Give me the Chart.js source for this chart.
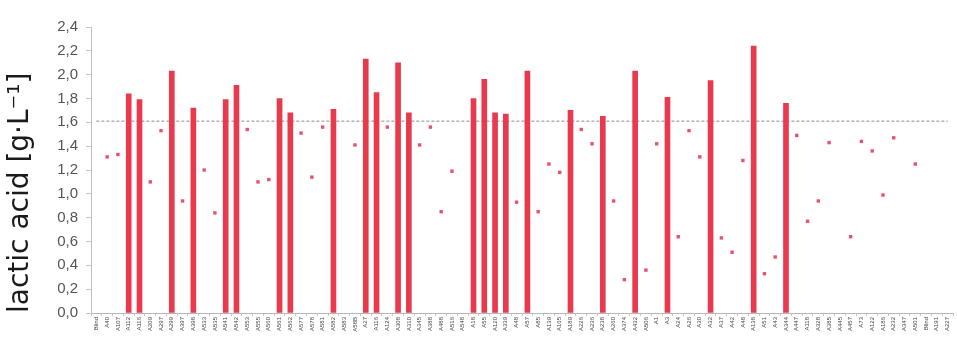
<!DOCTYPE html>
<html>
<head>
<meta charset="utf-8">
<script src="https://cdn.jsdelivr.net/npm/chart.js@4/dist/chart.umd.min.js"></script>
<style>
    body { margin: 0; background: #fff; }
    #wrap { width: 957px; height: 339px; position: relative; }
</style>
</head>
<body>
<div id="wrap"><canvas id="lacticChart"></canvas></div>
<script>
// Etiquetas de las cepas (eje X)
const labels = [
    'Blind', 'A40', 'A107', 'A112', 'A116', 'A209', 'A297', 'A299', 'A397', 'A398',
    'A533', 'A535', 'A541', 'A542', 'A553', 'A555', 'A560', 'A561', 'A562', 'A577',
    'A578', 'A581', 'A582', 'A583', 'A58B', 'A27', 'A116', 'A124', 'A308', 'A310',
    'A345', 'A388', 'A488', 'A516', 'A548', 'A18', 'A55', 'A120', 'A339', 'A48',
    'A57', 'A85', 'A139', 'A165', 'A189', 'A226', 'A236', 'A238', 'A260', 'A374',
    'A432', 'A506', 'A1', 'A3', 'A24', 'A26', 'A30', 'A32', 'A37', 'A42',
    'A48', 'A138', 'A51', 'A43', 'A344', 'A447', 'A118', 'A328', 'A385', 'A445',
    'A457', 'A73', 'A122', 'A186', 'A232', 'A347', 'A501', 'Blind', 'A191', 'A227'
];

// Cepas por encima del umbral (barras)
const highValues = [
    null, null, null, 1.84, 1.79, null, null, 2.03, null, 1.72,
    null, null, 1.79, 1.91, null, null, null, 1.80, 1.68, null,
    null, null, 1.71, null, null, 2.13, 1.85, null, 2.10, 1.68,
    null, null, null, null, null, 1.80, 1.96, 1.68, 1.67, null,
    2.03, null, null, null, 1.70, null, null, 1.65, null, null,
    2.03, null, null, 1.81, null, null, null, 1.95, null, null,
    null, 2.24, null, null, 1.76, null, null, null, null, null,
    null, null, null, null, null, null, null, null, null, null
];

// Cepas por debajo del umbral (marcas)
const lowValues = [
    null, 1.31, 1.33, null, null, 1.10, 1.53, null, 0.94, null,
    1.20, 0.84, null, null, 1.54, 1.10, 1.12, null, null, 1.51,
    1.14, 1.56, null, null, 1.41, null, null, 1.56, null, null,
    1.41, 1.56, 0.85, 1.19, null, null, null, null, null, 0.93,
    null, 0.85, 1.25, 1.18, null, 1.54, 1.42, null, 0.94, 0.28,
    null, 0.36, 1.42, null, 0.64, 1.53, 1.31, null, 0.63, 0.51,
    1.28, null, 0.33, 0.47, null, 1.49, 0.77, 0.94, 1.43, null,
    0.64, 1.44, 1.36, 0.99, 1.47, null, 1.25, null, null, null
];

// Umbral (línea discontinua)
const THRESHOLD = 1.61;

const yTicks = [0, 0.2, 0.4, 0.6, 0.8, 1.0, 1.2, 1.4, 1.6, 1.8, 2.0, 2.2, 2.4];

const RED = 'rgb(232, 58, 76)';

const ctx = document.getElementById('lacticChart').getContext('2d');
const lacticChart = new Chart(ctx, {
    type: 'bar',
    data: {
        labels: labels,
        datasets: [
            {
                type: 'line',
                data: labels.map(() => THRESHOLD),
                borderColor: '#8a8a8a',
                borderWidth: 1,
                borderDash: [3, 2],
                pointRadius: 0,
                order: 3
            },
            {
                data: highValues,
                backgroundColor: RED,
                barThickness: 5,
                order: 2
            },
            {
                type: 'line',
                data: lowValues,
                showLine: false,
                pointStyle: 'rect',
                pointRadius: 2.4,
                pointBackgroundColor: 'rgba(228, 64, 88, 0.9)',
                pointBorderWidth: 0,
                order: 1
            }
        ]
    },
    options: {
        responsive: true,
        maintainAspectRatio: false,
        animation: false,
        layout: { padding: { top: 27, right: 0, left: 0, bottom: 0 } },
        plugins: {
            legend: { display: false },
            tooltip: { enabled: false }
        },
        scales: {
            x: {
                offset: true,
                grid: { display: true, drawOnChartArea: false, color: '#c8c8c8', tickLength: 3 },
                border: { color: '#b8b8b8' },
                ticks: {
                    autoSkip: false,
                    minRotation: 90,
                    maxRotation: 90,
                    padding: 1,
                    color: '#444',
                    font: { family: 'Liberation Sans', size: 6 }
                },
                afterFit: (scale) => { scale.height = 26; }
            },
            y: {
                min: 0,
                max: 2.4,
                afterBuildTicks: (scale) => { scale.ticks = yTicks.map(v => ({ value: v })); },
                grid: { display: true, drawOnChartArea: false, color: '#c8c8c8', tickLength: 5 },
                border: { color: '#c0c0c0' },
                ticks: {
                    padding: 8,
                    color: '#555',
                    font: { family: 'Liberation Sans', size: 15 },
                    callback: (v) => v.toFixed(1).replace('.', ',')
                },
                title: {
                    display: true,
                    text: 'lactic acid [g·L⁻¹]',
                    align: 'start',
                    color: '#1a1a1a',
                    font: { family: 'DejaVu Sans', size: 28 },
                    padding: { top: 4, bottom: 0 }
                },
                afterFit: (scale) => { scale.width = 91; }
            }
        }
    }
});
</script>
</body>
</html>
